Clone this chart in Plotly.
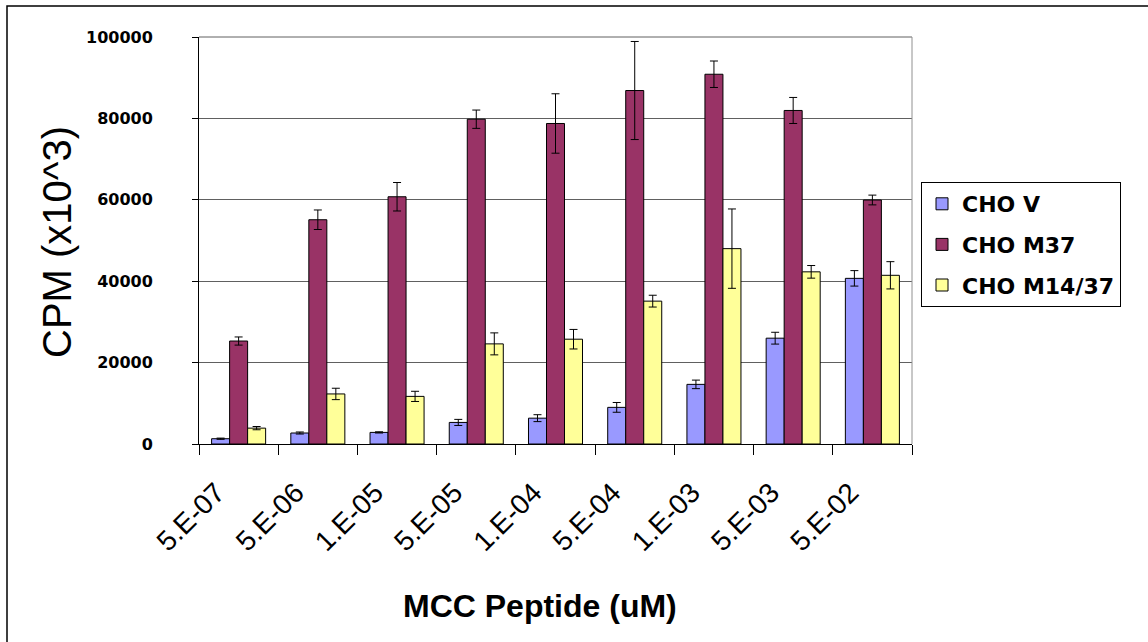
import plotly.graph_objects as go

# MCC peptide concentrations (uM) and mean CPM with error
concentrations = ["5.E-07", "5.E-06", "1.E-05", "5.E-05", "1.E-04",
                  "5.E-04", "1.E-03", "5.E-03", "5.E-02"]

cho_v = [1300, 2700, 2850, 5300, 6350, 9000, 14650, 26000, 40700]
cho_v_err = [150, 250, 150, 750, 850, 1200, 1050, 1450, 1900]

cho_m37 = [25300, 55100, 60750, 79800, 78750, 86850, 90850, 81950, 59950]
cho_m37_err = [1000, 2400, 3500, 2250, 7300, 12050, 3250, 3200, 1200]

cho_m1437 = [3900, 12300, 11700, 24600, 25750, 35100, 48000, 42300, 41450]
cho_m1437_err = [400, 1400, 1250, 2700, 2400, 1450, 9750, 1550, 3350]

series = [
    ("CHO V", cho_v, cho_v_err, "#9999FF"),
    ("CHO M37", cho_m37, cho_m37_err, "#993366"),
    ("CHO M14/37", cho_m1437, cho_m1437_err, "#FFFF99"),
]

fig = go.Figure()
for i, (name, vals, errs, color) in enumerate(series):
    fig.add_trace(go.Bar(
        name=name,
        x=concentrations,
        y=vals,
        marker=dict(color=color, line=dict(color="black", width=1)),
        error_y=dict(type="data", array=errs, color="black",
                     thickness=1, width=4),
        legendgroup=f"g{i}",
    ))

W, H = 1148, 642
L, R, T, B = 199, 236, 37, 198
pw, ph = W - L - R, H - T - B


def px(xp):
    return (xp - L) / pw


def py(yp):
    return (H - B - yp) / ph


fig.update_layout(
    width=W, height=H,
    autosize=False,
    margin=dict(l=L, r=R, t=T, b=B, pad=0),
    paper_bgcolor="white",
    plot_bgcolor="white",
    barmode="group",
    bargap=0.318,
    bargroupgap=0,
    showlegend=True,
    legend=dict(
        x=px(921), y=py(182), xanchor="left", yanchor="top",
        bgcolor="white", bordercolor="black", borderwidth=1,
        font=dict(family="DejaVu Sans", size=22, color="black", weight="bold"),
        tracegroupgap=9,
        itemclick=False, itemdoubleclick=False,
    ),
    xaxis=dict(
        type="category",
        showline=True, linecolor="black", linewidth=1,
        ticks="outside", tickson="boundaries", ticklen=10,
        tickcolor="black", tickwidth=1,
        tickangle=-45,
        tickfont=dict(family="Arial", size=28, color="black"),
        ticklabelshift=-22,
        ticklabelstandoff=20,
        showgrid=False,
    ),
    yaxis=dict(
        range=[0, 100000],
        dtick=20000,
        tickformat="d",
        showline=True, linecolor="black", linewidth=1,
        ticks="outside", ticklen=6, tickcolor="black",
        showgrid=True, gridcolor="#606060", gridwidth=1,
        zeroline=False,
        tickfont=dict(family="DejaVu Sans", size=16, color="black", weight="bold"),
        ticklabelstandoff=36,
    ),
    annotations=[
        dict(text="CPM (x10^3)", xref="paper", yref="paper",
             x=px(57), y=py(242), textangle=-90, showarrow=False,
             xanchor="center", yanchor="middle",
             font=dict(family="Arial", size=40, color="black")),
        dict(text="<b>MCC Peptide (uM)</b>", xref="paper", yref="paper",
             x=px(540), y=py(606), showarrow=False,
             xanchor="center", yanchor="middle",
             font=dict(family="Arial", size=32, color="black")),
    ],
    shapes=[
        # top and right edges of the plotting area
        dict(type="line", xref="paper", yref="paper", x0=0, x1=1, y0=1, y1=1,
             line=dict(color="#606060", width=1)),
        dict(type="line", xref="paper", yref="paper", x0=1, x1=1, y0=0, y1=1,
             line=dict(color="#909090", width=1)),
        # chart frame
        dict(type="rect", xref="paper", yref="paper",
             x0=px(7), x1=px(1160), y0=py(660), y1=py(6),
             line=dict(color="black", width=1.5), fillcolor="rgba(0,0,0,0)"),
    ],
)

fig.write_html("out.html")
